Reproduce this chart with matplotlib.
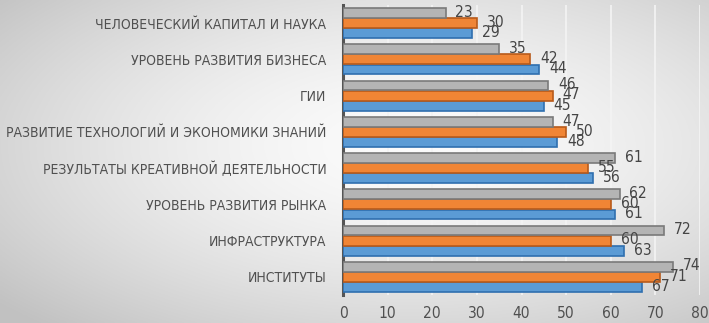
import numpy as np
import matplotlib
matplotlib.use("Agg")
import matplotlib.pyplot as plt
from matplotlib import font_manager

categories = ["ИНСТИТУТЫ", "ИНФРАСТРУКТУРА", "УРОВЕНЬ РАЗВИТИЯ РЫНКА",
              "РЕЗУЛЬТАТЫ КРЕАТИВНОЙ ДЕЯТЕЛЬНОСТИ",
              "РАЗВИТИЕ ТЕХНОЛОГИЙ И ЭКОНОМИКИ ЗНАНИЙ", "ГИИ",
              "УРОВЕНЬ РАЗВИТИЯ БИЗНЕСА", "ЧЕЛОВЕЧЕСКИЙ КАПИТАЛ И НАУКА"]
blue_vals = [67, 63, 61, 56, 48, 45, 44, 29]
orange_vals = [71, 60, 60, 55, 50, 47, 42, 30]
gray_vals = [74, 72, 62, 61, 47, 46, 35, 23]
xticks = [0, 10, 20, 30, 40, 50, 60, 70, 80]

fl = font_manager.fontManager.ttflist
names = {f.name for f in fl}
stretch = 'normal'
if "Liberation Sans Narrow" in names:
    fam = "Liberation Sans Narrow"; cat_size = 11.5; num_size = 12.5
elif any(f.name == "DejaVu Sans" and str(f.stretch) in ('condensed', 'semi-condensed', '75', '87') for f in fl):
    fam = "DejaVu Sans"; stretch = 'condensed'; cat_size = 10.0; num_size = 11.2
else:
    fam = "Open Sans"; cat_size = 9.9; num_size = 11
plt.rcParams['font.family'] = [fam, 'DejaVu Sans']
plt.rcParams['font.stretch'] = stretch

W, H = 709, 323
fig = plt.figure(figsize=(W / 100, H / 100), dpi=100)

# background gradient
bg = fig.add_axes([0, 0, 1, 1], zorder=-10)
yy, xx = np.mgrid[0:1:200j, 0:1:400j]
r = np.sqrt(((xx - 0.58) / 0.75) ** 2 + ((yy - 0.55) / 0.75) ** 2)
v = np.clip(0.985 - 0.22 * r ** 1.6, 0.76, 0.985)
bg.imshow(np.dstack([v, v, v]), aspect='auto', extent=[0, 1, 0, 1], origin='lower')
bg.axis('off')

ax = fig.add_axes([343 / W, (H - 295) / H, (700 - 343) / W, 290 / H])
ax.set_facecolor('none')

y = np.arange(len(categories))
h = 0.27
off = 0.28
specs = [(blue_vals, -off, '#5B9BD5', '#2F6FAF'),
         (orange_vals, 0, '#F08535', '#B85A1A'),
         (gray_vals, off, '#B4B4B4', '#7A7A7A')]
for vals, o, fc, ec in specs:
    bars = ax.barh(y + o, vals, height=h, color=fc, edgecolor=ec, linewidth=1.2, zorder=3)
    for b, val in zip(bars, vals):
        ax.text(b.get_width() + 2.2, b.get_y() + b.get_height() / 2 + 0.02, str(val),
                va='center', ha='left', fontsize=num_size, color='#454545', zorder=4)

ax.set_xlim(0, 80)
ax.set_ylim(-0.5, len(categories) - 0.5)
ax.set_xticks(xticks)
ax.set_xticklabels([str(t) for t in xticks])
ax.set_yticks(y)
ax.set_yticklabels(categories)
ax.tick_params(axis='y', length=0, pad=12, labelsize=cat_size, labelcolor='#505050')
ax.tick_params(axis='x', length=0, pad=8, labelsize=num_size, labelcolor='#505050')
ax.grid(axis='x', color='#f4f4f4', linewidth=1.2, zorder=0)
for s in ['top', 'right', 'bottom']:
    ax.spines[s].set_visible(False)
ax.spines['left'].set_color('#555555')
ax.spines['left'].set_linewidth(2.2)

fig.savefig('out.png', dpi=100)
